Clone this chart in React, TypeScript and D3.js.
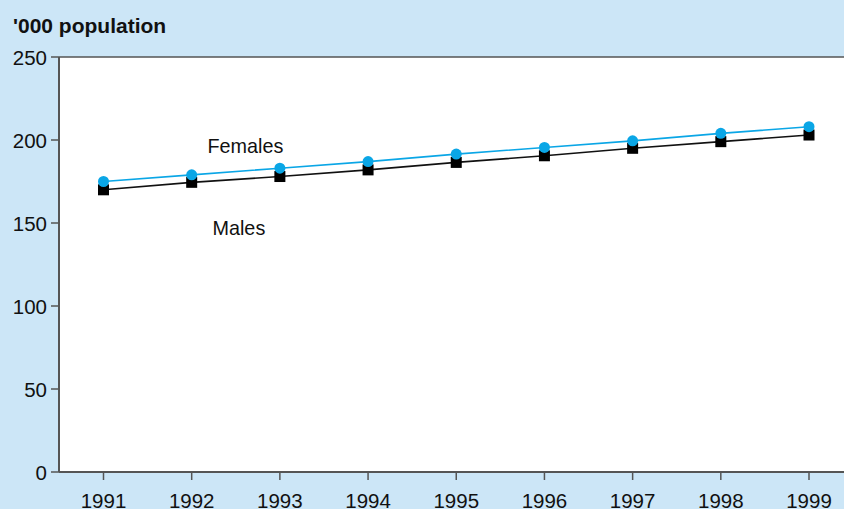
import React from "react";
import * as d3 from "d3";

const years = [1991, 1992, 1993, 1994, 1995, 1996, 1997, 1998, 1999];
const females = [175, 179, 183, 187, 191.5, 195.5, 199.5, 204, 208];
const males = [170, 174.5, 178, 182, 186.5, 190.5, 195, 199, 203];
const yTicks = [0, 50, 100, 150, 200, 250];
const title = "'000 population";
const femaleLabel = "Females";
const maleLabel = "Males";

const W = 844;
const H = 509;
const plotLeft = 59;
const plotTop = 57;
const plotBottom = 472;

export default function App() {
  const x = d3.scaleLinear().domain([1991, 1999]).range([103.5, 809]);
  const y = d3.scaleLinear().domain([0, 250]).range([plotBottom, plotTop]);
  const line = d3
    .line<number>()
    .x((_, i) => x(years[i]))
    .y((d) => y(d));
  const font = "'Liberation Sans', Arial, sans-serif";
  const axisColor = "#555555";
  const blue = "#0aa6e6";
  return (
    <svg
      width={W}
      height={H}
      style={{ position: "fixed", left: 0, top: 0, display: "block" }}
      fontFamily={font}
    >
      <rect x={0} y={0} width={W} height={H} fill="#cce6f7" />
      <rect x={plotLeft} y={plotTop} width={W - plotLeft} height={plotBottom - plotTop} fill="#ffffff" />
      <text x={13} y={33} fontSize={21} fontWeight="bold" fill="#111">
        {title}
      </text>
      <line x1={plotLeft} x2={W} y1={plotTop} y2={plotTop} stroke={axisColor} strokeWidth={1.5} />
      <line x1={plotLeft} x2={plotLeft} y1={plotTop} y2={plotBottom} stroke={axisColor} strokeWidth={2} />
      <line x1={plotLeft} x2={W} y1={plotBottom} y2={plotBottom} stroke={axisColor} strokeWidth={2} />
      {yTicks.map((t) => (
        <g key={t}>
          <line x1={plotLeft - 8} x2={plotLeft} y1={y(t)} y2={y(t)} stroke={axisColor} strokeWidth={1.5} />
          <text x={47} y={y(t) + 7.5} textAnchor="end" fontSize={20.5} fill="#111">
            {t}
          </text>
        </g>
      ))}
      {years.map((yr) => (
        <g key={yr}>
          <line x1={x(yr)} x2={x(yr)} y1={plotBottom} y2={plotBottom + 8} stroke={axisColor} strokeWidth={1.5} />
          <text x={x(yr)} y={508} textAnchor="middle" fontSize={20.5} fill="#111">
            {yr}
          </text>
        </g>
      ))}
      <path d={line(males) || ""} fill="none" stroke="#111" strokeWidth={1.6} />
      {males.map((v, i) => (
        <rect key={i} x={x(years[i]) - 5.5} y={y(v) - 5.5} width={11} height={11} fill="#000" />
      ))}
      <path d={line(females) || ""} fill="none" stroke={blue} strokeWidth={1.6} />
      {females.map((v, i) => (
        <circle key={i} cx={x(years[i])} cy={y(v)} r={5.5} fill={blue} />
      ))}
      <text x={207.5} y={153} fontSize={19.8} fill="#111">
        {femaleLabel}
      </text>
      <text x={212.5} y={235} fontSize={19.8} fill="#111">
        {maleLabel}
      </text>
    </svg>
  );
}
